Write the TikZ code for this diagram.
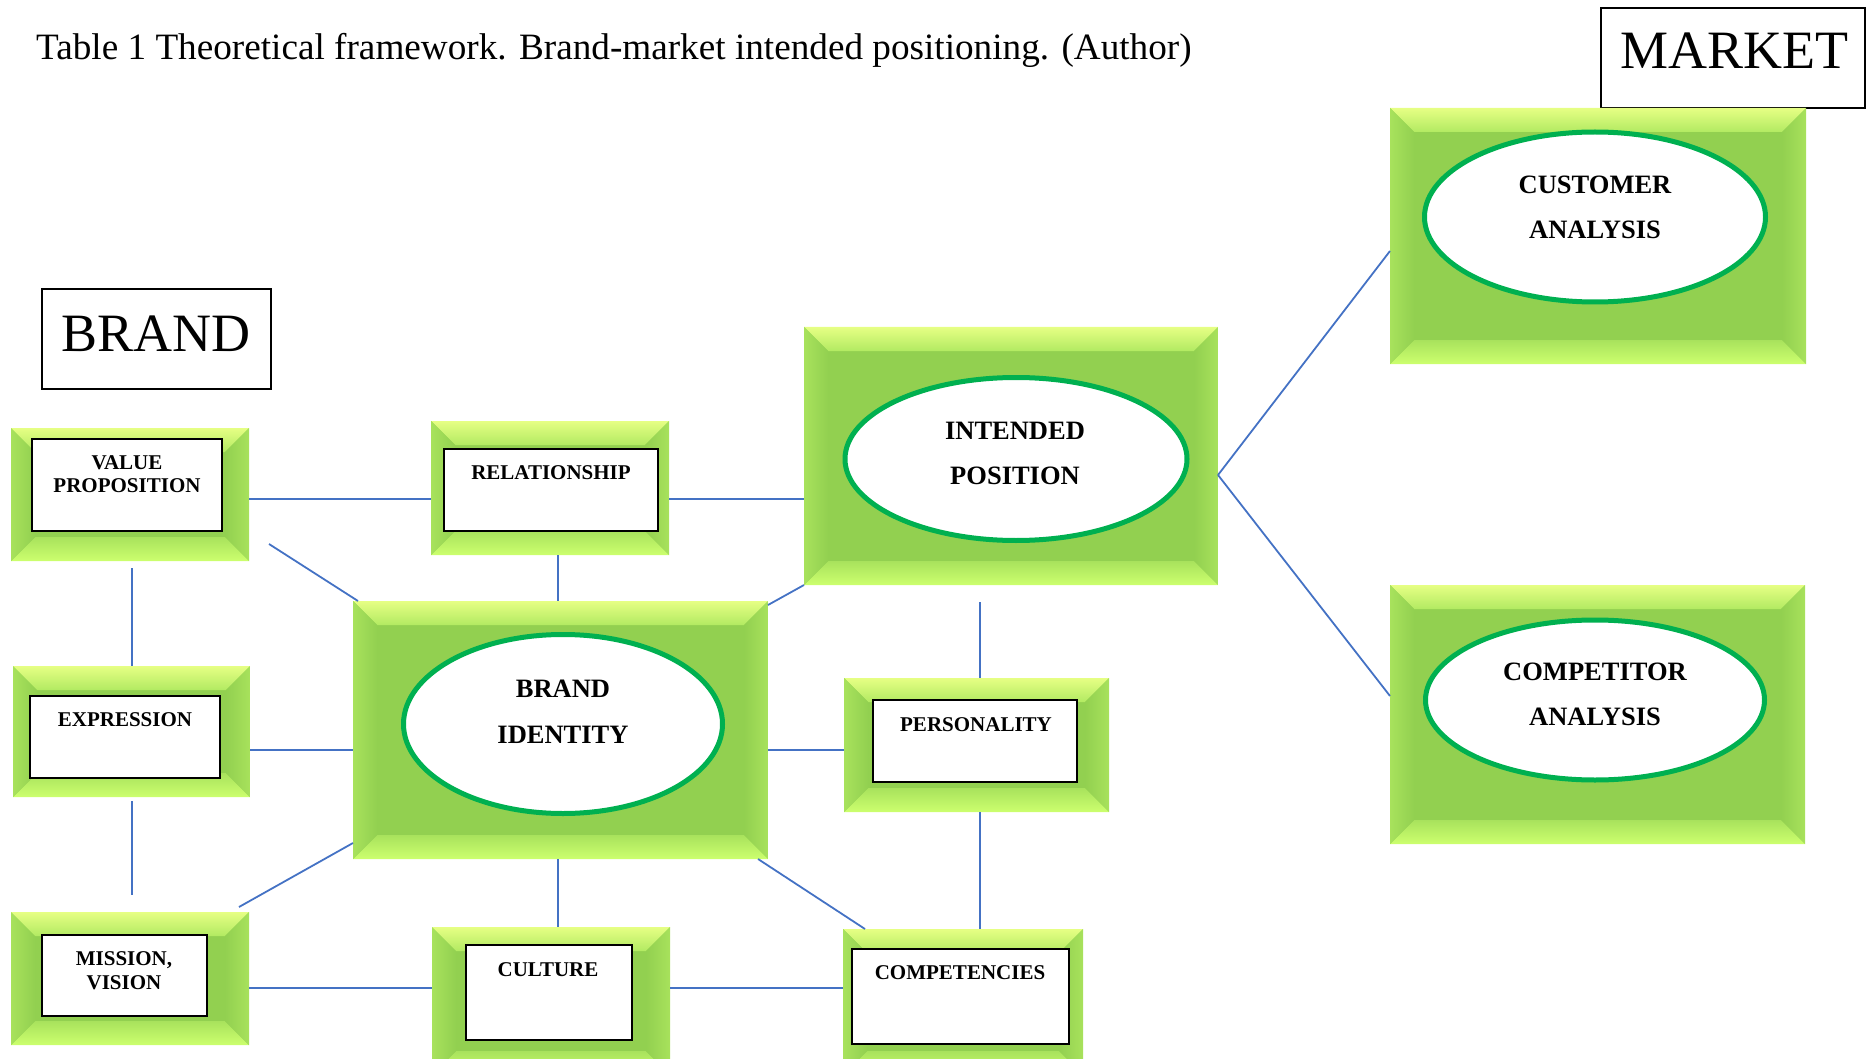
\documentclass[tikz,border=0pt]{standalone}
\usepackage{fontspec}
\setmainfont{Liberation Serif}
\usetikzlibrary{shapes.geometric,fit}

\definecolor{face}{HTML}{92D050}
\definecolor{bevtop}{HTML}{E6FF84}
\definecolor{bevmid}{HTML}{B2EA62}
\definecolor{bevbot}{HTML}{CCFF6E}
\definecolor{bevside}{HTML}{A8E25C}
\definecolor{ringgreen}{HTML}{00B050}
\definecolor{linkblue}{HTML}{4472C4}

% bevelled green panel: name, x1, y1, x2, y2
\newcommand\bevelbox[5]{%
  \def\bvw{24}%
  \fill[face] (#2,#3) rectangle (#4,#5);
  \shade[top color=bevtop, bottom color=bevmid]
    (#2,#3) -- (#4,#3) -- ({#4-\bvw},{#3+\bvw}) -- ({#2+\bvw},{#3+\bvw}) -- cycle;
  \shade[top color=bevmid!70!face, bottom color=bevbot]
    (#2,#5) -- (#4,#5) -- ({#4-\bvw},{#5-\bvw}) -- ({#2+\bvw},{#5-\bvw}) -- cycle;
  \shade[left color=bevside, right color=face]
    (#2,#3) -- ({#2+\bvw},{#3+\bvw}) -- ({#2+\bvw},{#5-\bvw}) -- (#2,#5) -- cycle;
  \shade[left color=face, right color=bevside]
    (#4,#3) -- ({#4-\bvw},{#3+\bvw}) -- ({#4-\bvw},{#5-\bvw}) -- (#4,#5) -- cycle;
  \node[fit={(#2,#3)(#4,#5)}, inner sep=0pt, outer sep=0pt] (#1) {};
}

\begin{document}
\begin{tikzpicture}[x=1pt, y=-1pt,
  innerbox/.style={draw=black, fill=white, line width=1.6pt, inner sep=0pt, outer sep=0pt},
  ring/.style={ellipse, draw=ringgreen, fill=white, line width=5pt, inner sep=0pt},
  smalltxt/.style={font=\bfseries\fontsize{21}{24}\selectfont, anchor=base, inner sep=0pt, yshift=-7pt},
  bigtxt/.style={font=\bfseries\fontsize{26.5}{30}\selectfont, anchor=base, inner sep=0pt, yshift=-9pt},
  headbox/.style={draw=black, line width=1.6pt, inner sep=0pt},
  headtxt/.style={font=\fontsize{54}{60}\selectfont, anchor=base, inner sep=0pt},
  link/.style={draw=linkblue, line width=1.8pt}]

\useasboundingbox (0,0) rectangle (1866,1059);

% caption
\node[anchor=base west, inner sep=0pt, font=\fontsize{37.2}{42}\selectfont] (caption) at (36,60)
  {Table 1 Theoretical framework. Brand-market intended positioning. (Author)};

% side headings
\node[headbox, fit={(42,289)(271,389)}] (brandbox) {};
\node[headtxt] (brandtxt) at (156,351) {BRAND};
\node[headbox, fit={(1601,8)(1865,108)}] (marketbox) {};
\node[headtxt] (markettxt) at (1734,69) {MARKET};

% panels
\bevelbox{vp}{11}{428}{249}{561}
\bevelbox{rel}{431}{421}{669}{555}
\bevelbox{ip}{804}{327}{1218}{585}
\bevelbox{cust}{1390}{108}{1806}{364}
\bevelbox{compa}{1390}{585}{1805}{844}
\bevelbox{bi}{353}{601}{768}{859}
\bevelbox{ex}{13}{666}{250}{797}
\bevelbox{pers}{844}{678}{1109}{812}
\bevelbox{mi}{11}{912}{249}{1045}
\bevelbox{cul}{432}{927}{670}{1075}
\bevelbox{cpt}{843}{929}{1083}{1075}

% white label boxes
\node[innerbox, fit={(32,439)(222,531)}] (vp-in) {};
\node[innerbox, fit={(444,449)(658,531)}] (rel-in) {};
\node[innerbox, fit={(30,696)(220,778)}] (ex-in) {};
\node[innerbox, fit={(873,700)(1077,782)}] (pers-in) {};
\node[innerbox, fit={(42,935)(207,1016)}] (mi-in) {};
\node[innerbox, fit={(466,945)(632,1040)}] (cul-in) {};
\node[innerbox, fit={(852,949)(1069,1044)}] (cpt-in) {};

% ovals
\node[ring, minimum width=342pt, minimum height=163pt] (ip-e) at (1016,459) {};
\node[ring, minimum width=341pt, minimum height=170pt] (cust-e) at (1595,217) {};
\node[ring, minimum width=339pt, minimum height=160pt] (compa-e) at (1595,700) {};
\node[ring, minimum width=319pt, minimum height=179pt] (bi-e) at (563,724) {};

% labels
\node[smalltxt] (vp-t1) at (127,462) {VALUE};
\node[smalltxt] (vp-t2) at (127,485) {PROPOSITION};
\node[smalltxt] (rel-t) at (551,472) {RELATIONSHIP};
\node[smalltxt] (ex-t) at (125,719) {EXPRESSION};
\node[smalltxt] (pers-t) at (976,724) {PERSONALITY};
\node[smalltxt] (mi-t1) at (124,958) {MISSION,};
\node[smalltxt] (mi-t2) at (124,982) {VISION};
\node[smalltxt] (cul-t) at (548,969) {CULTURE};
\node[smalltxt] (cpt-t) at (960,972) {COMPETENCIES};
\node[bigtxt] (ip-t1) at (1015,430) {INTENDED};
\node[bigtxt] (ip-t2) at (1015,475) {POSITION};
\node[bigtxt] (cust-t1) at (1595,185) {CUSTOMER};
\node[bigtxt] (cust-t2) at (1595,230) {ANALYSIS};
\node[bigtxt] (compa-t1) at (1595,671) {COMPETITOR};
\node[bigtxt] (compa-t2) at (1595,716) {ANALYSIS};
\node[bigtxt] (bi-t1) at (563,688) {BRAND};
\node[bigtxt] (bi-t2) at (563,734) {IDENTITY};

% free line ends
\coordinate (vp-bi-a) at (269,544);
\coordinate (vp-ex-a) at (132,568);
\coordinate (ex-mi-a) at (132,801);
\coordinate (ex-mi-b) at (132,895);
\coordinate (bi-mi-b) at (239,907);
\coordinate (ip-pers-a) at (980,602);

% connectors
\draw[link] (vp.east |- 0,499) -- (rel.west |- 0,499);
\draw[link] (rel.east |- 0,499) -- (ip.west |- 0,499);
\draw[link] (vp-bi-a) -- (358,0 |- bi.north);
\draw[link] (vp-ex-a) -- (132,0 |- ex.north);
\draw[link] (558,0 |- rel.south) -- (558,0 |- bi.north);
\draw[link] (768,605) -- (ip.south west);
\draw[link] (ip.east |- 0,475) -- (cust.west |- 0,251);
\draw[link] (ip.east |- 0,475) -- (compa.west |- 0,696);
\draw[link] (ex.east |- 0,750) -- (bi.west |- 0,750);
\draw[link] (bi.east |- 0,750) -- (pers.west |- 0,750);
\draw[link] (ip-pers-a) -- (980,0 |- pers.north);
\draw[link] (ex-mi-a) -- (ex-mi-b);
\draw[link] (bi.west |- 0,843) -- (bi-mi-b);
\draw[link] (558,0 |- bi.south) -- (558,0 |- cul.north);
\draw[link] (758,0 |- bi.south) -- (865,0 |- cpt.north);
\draw[link] (980,0 |- pers.south) -- (980,0 |- cpt.north);
\draw[link] (mi.east |- 0,988) -- (cul.west |- 0,988);
\draw[link] (cul.east |- 0,988) -- (cpt.west |- 0,988);
\end{tikzpicture}
\end{document}
